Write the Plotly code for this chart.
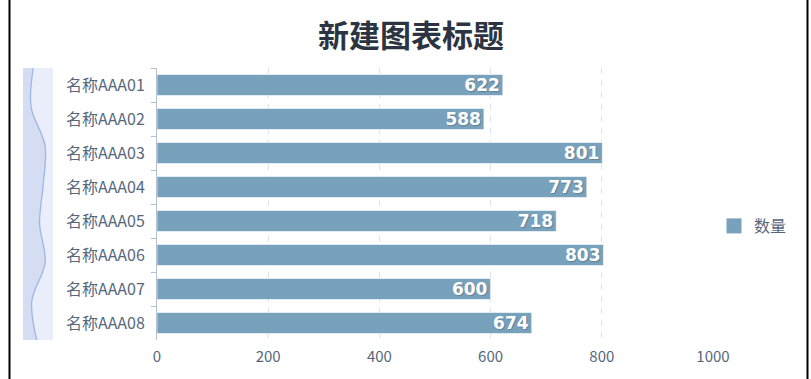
import plotly.graph_objects as go

categories = ["名称AAA01", "名称AAA02", "名称AAA03", "名称AAA04",
              "名称AAA05", "名称AAA06", "名称AAA07", "名称AAA08"]
values = [622, 588, 801, 773, 718, 803, 600, 674]
x_ticks = [0, 200, 400, 600, 800, 1000]
series_name = "数量"
title_text = "新建图表标题"

W, H = 811, 379
ML, MR, MT, MB = 20, 98, 68, 39
plot_w = W - ML - MR
plot_h = H - MT - MB
main_x0 = (157 - ML) / plot_w
slider_x0 = (23 - ML) / plot_w
slider_x1 = (53 - ML) / plot_w

txt_color = "#56677d"
bar_color = "#78a1bb"
cjk = "Noto Sans CJK SC, Noto Sans, sans-serif"

fig = go.Figure()

fig.add_trace(go.Bar(
    x=values, y=categories, orientation="h", name=series_name,
    marker=dict(color=bar_color, line=dict(color="rgba(255,255,255,0.6)", width=1)),
    text=[str(v) for v in values], textposition="inside", insidetextanchor="end",
    constraintext="none",
    textfont=dict(family="DejaVu Sans", size=17, color="white", weight="bold",
                  shadow="1px 1px 1px rgba(0,0,0,0.2)"),
    cliponaxis=False, xaxis="x", yaxis="y", showlegend=False,
))

# legend entry (square swatch)
fig.add_trace(go.Scatter(
    x=[None], y=[None], mode="markers", name=series_name,
    marker=dict(symbol="square", size=15, color=bar_color),
    xaxis="x", yaxis="y", showlegend=True,
))

# data shadow in the vertical zoom slider
fig.add_trace(go.Scatter(
    x=values, y=list(range(len(values))), mode="lines",
    line=dict(color="#9cb6ea", width=1.3, shape="spline", smoothing=1.0),
    fill="tozerox", fillcolor="#d4ddf2", hoverinfo="skip",
    showlegend=False, xaxis="x2", yaxis="y2",
))

fig.update_layout(
    width=W, height=H,
    margin=dict(l=ML, r=MR, t=MT, b=MB, autoexpand=False),
    paper_bgcolor="white", plot_bgcolor="white",
    title=dict(text=title_text, x=411 / W, xref="container", xanchor="center",
               y=1 - 36 / H, yref="container", yanchor="middle",
               font=dict(family=cjk, size=31, color="#2c3441", weight="bold")),
    bargap=0.38,
    showlegend=True,
    legend=dict(xref="container", yref="container", x=714 / W, xanchor="left",
                y=1 - 226 / H, yanchor="middle",
                font=dict(family=cjk, size=16, color=txt_color),
                itemwidth=30, bgcolor="rgba(0,0,0,0)"),
    xaxis=dict(domain=[main_x0, 1], range=[0, 1000], tickvals=x_ticks,
               showgrid=True, gridcolor="#dde3ec", griddash="6px,6px", gridwidth=1.2,
               zeroline=False, showline=False, ticks="",
               tickfont=dict(family=cjk, size=15, color=txt_color),
               ticklabelstandoff=6, fixedrange=True, automargin=False),
    yaxis=dict(domain=[0, 1], categoryorder="array", categoryarray=categories,
               autorange="reversed", showgrid=False, zeroline=False,
               showline=True, linecolor="#b6c0cd", linewidth=1,
               ticks="outside", tickson="boundaries", ticklen=5, tickcolor="#b6c0cd",
               tickfont=dict(family=cjk, size=16, color=txt_color),
               ticklabelstandoff=8, fixedrange=True, automargin=False),
    xaxis2=dict(domain=[slider_x0, slider_x1], range=[466, 922], visible=False,
                anchor="y2", fixedrange=True),
    yaxis2=dict(domain=[0, 1], range=[len(values) - 1, 0], visible=False,
                anchor="x2", fixedrange=True),
    shapes=[
        dict(type="rect", xref="x2 domain", yref="y2 domain", x0=0, x1=1, y0=0, y1=1,
             fillcolor="#e9eefa", line=dict(width=0), layer="below"),
        dict(type="line", xref="paper", yref="paper",
             x0=(9.5 - ML) / plot_w, x1=(9.5 - ML) / plot_w, y0=-MB / plot_h,
             y1=1 + MT / plot_h, line=dict(color="black", width=2)),
        dict(type="line", xref="paper", yref="paper",
             x0=(807.5 - ML) / plot_w, x1=(807.5 - ML) / plot_w, y0=-MB / plot_h,
             y1=1 + MT / plot_h, line=dict(color="black", width=2)),
    ],
)

fig.write_html("out.html")
